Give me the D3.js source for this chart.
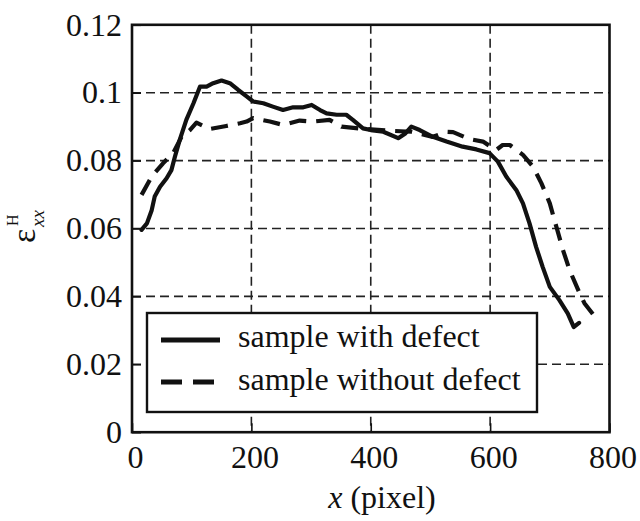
<!DOCTYPE html>
<html>
<head>
<meta charset="utf-8">
<script src="https://cdn.jsdelivr.net/npm/d3@7"></script>
</head>
<body style="margin:0">
<svg id="chart" width="640" height="521"></svg>
<script>
// ---- data ----
const withDefectX = [16, 25, 33, 38, 47, 58, 66, 72, 80, 91, 103, 114, 125, 136, 150, 164, 178, 192, 203, 220, 236, 253, 270, 287, 301, 315, 326, 343, 359, 370, 387, 400, 421, 446, 458, 468, 482, 504, 527, 554, 577, 599, 613, 627, 644, 655, 666, 677, 688, 700, 716, 730, 740, 749];
const withDefectY = [0.0596, 0.0615, 0.0654, 0.0694, 0.0723, 0.0748, 0.0772, 0.0812, 0.0861, 0.092, 0.0969, 0.1018, 0.1018, 0.1028, 0.1036, 0.1028, 0.1008, 0.0989, 0.0974, 0.0969, 0.0959, 0.0949, 0.0957, 0.0957, 0.0964, 0.0949, 0.0939, 0.0935, 0.0935, 0.092, 0.0895, 0.089, 0.0885, 0.0866, 0.088, 0.09, 0.089, 0.087, 0.0856, 0.0841, 0.0833, 0.0822, 0.0797, 0.0753, 0.0713, 0.0674, 0.0615, 0.0546, 0.0487, 0.0428, 0.0389, 0.035, 0.031, 0.0322];

const withoutDefectX = [16, 33, 52, 69, 83, 97, 108, 130, 158, 181, 192, 203, 231, 253, 281, 303, 331, 351, 380, 400, 430, 468, 504, 527, 538, 566, 588, 610, 621, 633, 655, 672, 686, 700, 711, 722, 733, 750, 758, 778];
const withoutDefectY = [0.0699, 0.0753, 0.0792, 0.0822, 0.087, 0.089, 0.0912, 0.0893, 0.0902, 0.091, 0.0915, 0.0925, 0.0915, 0.0905, 0.0918, 0.0915, 0.092, 0.090, 0.0895, 0.0892, 0.0888, 0.0885, 0.087, 0.0885, 0.0884, 0.0863, 0.0856, 0.0831, 0.0846, 0.0846, 0.0817, 0.0782, 0.0733, 0.0674, 0.0605, 0.0537, 0.0478, 0.0409, 0.038, 0.0335];

const xTicks = [0, 200, 400, 600, 800];
const yTicks = [0, 0.02, 0.04, 0.06, 0.08, 0.1, 0.12];
const yTickLabels = ["0", "0.02", "0.04", "0.06", "0.08", "0.1", "0.12"];
const seriesNames = ["sample with defect", "sample without defect"];

const FONT = '"Liberation Serif", monospace';
const FS = 32;

// ---- layout ----
const L = 132, R = 609.5, T = 24.8, B = 432.2;

const svg = d3.select("#chart");
const x = d3.scaleLinear().domain([0, 800]).range([L, R]);
const y = d3.scaleLinear().domain([0, 0.12]).range([B, T]);

// grid
const grid = svg.append("g").attr("stroke", "#222").attr("stroke-width", 1.6)
  .attr("stroke-dasharray", "9,5").attr("fill", "none");
grid.selectAll("line.v").data(xTicks.slice(1, -1)).join("line")
  .attr("x1", d => x(d)).attr("x2", d => x(d)).attr("y1", T).attr("y2", B);
grid.selectAll("line.h").data(yTicks.slice(1, -1)).join("line")
  .attr("x1", L).attr("x2", R).attr("y1", d => y(d)).attr("y2", d => y(d));

// data lines
const line = d3.line().x(d => x(d[0])).y(d => y(d[1]));
const s1 = withDefectX.map((v, i) => [v, withDefectY[i]]);
const s2 = withoutDefectX.map((v, i) => [v, withoutDefectY[i]]);

svg.append("path").datum(s2).attr("d", line).attr("fill", "none")
  .attr("stroke", "#111").attr("stroke-width", 4.2).attr("stroke-dasharray", "17,10")
  .attr("stroke-linejoin", "round");
svg.append("path").datum(s1).attr("d", line).attr("fill", "none")
  .attr("stroke", "#111").attr("stroke-width", 4.2).attr("stroke-linejoin", "round")
  .attr("stroke-linecap", "round");

// legend
const lg = svg.append("g");
lg.append("rect").attr("x", 147).attr("y", 313).attr("width", 390).attr("height", 99)
  .attr("fill", "#fff").attr("stroke", "#111").attr("stroke-width", 2.4);
lg.append("line").attr("x1", 161).attr("x2", 220).attr("y1", 340).attr("y2", 340)
  .attr("stroke", "#111").attr("stroke-width", 4.8);
lg.append("line").attr("x1", 161).attr("x2", 214).attr("y1", 382).attr("y2", 382)
  .attr("stroke", "#111").attr("stroke-width", 4.8).attr("stroke-dasharray", "21,11");
lg.selectAll("text").data(seriesNames).join("text")
  .attr("x", 238).attr("y", (d, i) => i === 0 ? 347 : 390)
  .attr("font-size", FS).style("font-family", FONT).attr("fill", "#111").text(d => d);

// axes ticks (inward) and labels
const xAxis = d3.axisBottom(x).tickValues(xTicks).tickSize(-9).tickPadding(13)
  .tickFormat(d3.format("d"));
const gx = svg.append("g").attr("transform", `translate(0,${B})`).call(xAxis);
gx.select(".domain").remove();
gx.selectAll(".tick line").attr("stroke", "#111").attr("stroke-width", 1.6);
gx.selectAll(".tick text").attr("font-size", FS).style("font-family", FONT)
  .attr("fill", "#111").attr("dx", 3);

const yAxis = d3.axisLeft(y).tickValues(yTicks).tickSize(-9).tickPadding(10)
  .tickFormat((d, i) => yTickLabels[i]);
const gy = svg.append("g").attr("transform", `translate(${L},0)`).call(yAxis);
gy.select(".domain").remove();
gy.selectAll(".tick line").attr("stroke", "#111").attr("stroke-width", 1.6);
gy.selectAll(".tick text").attr("font-size", FS).style("font-family", FONT)
  .attr("fill", "#111");

// frame
svg.append("rect").attr("x", L).attr("y", T).attr("width", R - L).attr("height", B - T)
  .attr("fill", "none").attr("stroke", "#111").attr("stroke-width", 2.6);

// x label
const xl = svg.append("text").attr("x", 382).attr("y", 508).attr("text-anchor", "middle")
  .attr("font-size", FS).style("font-family", FONT).attr("fill", "#111");
xl.append("tspan").style("font-style", "italic").text("x");
xl.append("tspan").text(" (pixel)");

// y label: epsilon with subscript xx and superscript H
const yl = svg.append("g").attr("transform", "translate(35,243) rotate(-90)");
yl.append("text").attr("x", 0).attr("y", 0).attr("font-size", 34)
  .style("font-family", FONT).attr("fill", "#111").text("ε");
yl.append("text").attr("x", 16).attr("y", 9).attr("font-size", 19)
  .style("font-family", FONT).style("font-style", "italic").attr("fill", "#111").text("xx");
yl.append("text").attr("x", 17).attr("y", -17).attr("font-size", 16)
  .style("font-family", FONT).attr("fill", "#111").text("H");
</script>
</body>
</html>
